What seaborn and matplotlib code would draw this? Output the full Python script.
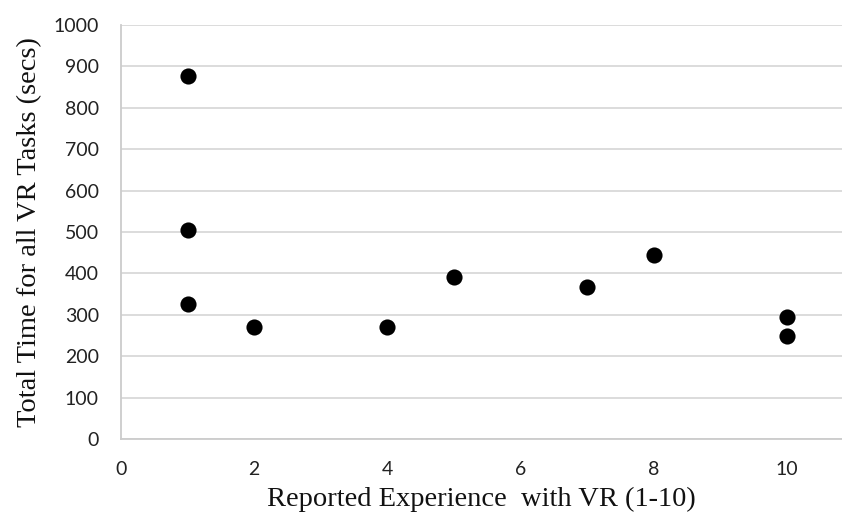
import numpy as np
import pandas as pd
import matplotlib
matplotlib.use("Agg")
import matplotlib.pyplot as plt
import seaborn as sns

# values
experience = [1, 1, 1, 2, 4, 5, 7, 8, 10, 10]
total_time = [877, 506, 327, 271, 271, 391, 368, 445, 294, 250]

x_ticks = [0, 2, 4, 6, 8, 10]
y_ticks = [0, 100, 200, 300, 400, 500, 600, 700, 800, 900, 1000]

df = pd.DataFrame({"experience": experience, "total_time": total_time})

sns.set_theme(style="white")
plt.rcParams["font.family"] = ["Lato", "DejaVu Sans"]

fig = plt.figure(figsize=(8.42, 5.25), dpi=100)
ax = fig.add_axes([0.1437, 0.1638, 0.8563, 0.7886])

sns.scatterplot(data=df, x="experience", y="total_time", ax=ax,
                color="black", s=135, edgecolor="black", linewidth=0, zorder=3)

ax.set_xlim(0, 10.83)
ax.set_ylim(0, 1000)
ax.set_xticks(x_ticks)
ax.set_yticks(y_ticks)
ax.tick_params(axis="both", labelsize=14, labelcolor="#222222")
# small grey stubs outside the axes, like Excel
ax.tick_params(axis="y", length=6, width=1.3, color="#d9d9d9", direction="out", pad=10)
ax.tick_params(axis="x", length=4, width=1.3, color="#cccccc", direction="out", pad=12)

# horizontal grid like the Excel chart
ax.yaxis.grid(True, color="#d9d9d9", linewidth=1.3)
ax.xaxis.grid(False)
ax.set_axisbelow(True)

for side in ["top", "right"]:
    ax.spines[side].set_visible(False)
ax.spines["left"].set_color("#cccccc")
ax.spines["bottom"].set_color("#cccccc")
ax.spines["left"].set_linewidth(1.3)
ax.spines["bottom"].set_linewidth(1.3)

ax.set_xlabel("Reported Experience  with VR (1-10)", fontsize=20.5,
              family="Liberation Serif", color="#111111", labelpad=6)
ax.set_ylabel("Total Time for all VR Tasks (secs)", fontsize=20.5,
              family="Liberation Serif", color="#111111", labelpad=8)

fig.savefig("out.png", dpi=100)
